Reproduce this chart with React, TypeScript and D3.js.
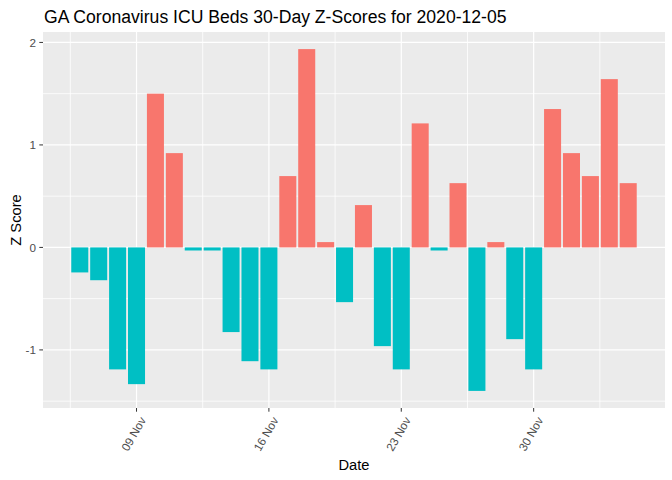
import React from "react";
import * as d3 from "d3";

const dates: string[] = [
  "2020-11-06","2020-11-07","2020-11-08","2020-11-09","2020-11-10","2020-11-11","2020-11-12","2020-11-13","2020-11-14","2020-11-15",
  "2020-11-16","2020-11-17","2020-11-18","2020-11-19","2020-11-20","2020-11-21","2020-11-22","2020-11-23","2020-11-24","2020-11-25",
  "2020-11-26","2020-11-27","2020-11-28","2020-11-29","2020-11-30","2020-12-01","2020-12-02","2020-12-03","2020-12-04","2020-12-05",
];
const zScores: number[] = [
  -0.244, -0.32, -1.19, -1.334, 1.5, 0.92, -0.03, -0.03, -0.826, -1.11,
  -1.19, 0.696, 1.935, 0.052, -0.534, 0.413, -0.963, -1.19, 1.21, -0.03,
  0.627, -1.40, 0.052, -0.895, -1.19, 1.35, 0.92, 0.696, 1.642, 0.627,
];
const xTickDates: string[] = ["2020-11-09", "2020-11-16", "2020-11-23", "2020-11-30"];
const xMinorDates: string[] = ["2020-11-05T12:00", "2020-11-12T12:00", "2020-11-19T12:00", "2020-11-26T12:00", "2020-12-03T12:00"];
const yTicks: number[] = [-1, 0, 1, 2];
const yMinor: number[] = [-1.5, -0.5, 0.5, 1.5];
const title = "GA Coronavirus ICU Beds 30-Day Z-Scores for 2020-12-05";

const DAY = 86400000;
const parse = (s: string) => new Date(s.length > 10 ? s + ":00Z" : s + "T00:00:00Z");

export default function App() {
  const W = 672, H = 480;
  const left = 43, right = 665, top = 32, bottom = 408;
  const font = "'Liberation Sans', Arial, sans-serif";

  const times = dates.map(parse);
  const t0 = +times[0] - 0.45 * DAY;
  const t1 = +times[times.length - 1] + 0.45 * DAY;
  const xpad = (t1 - t0) * 0.05;
  const x = d3.scaleUtc().domain([new Date(t0 - xpad), new Date(t1 + xpad)]).range([left, right]);

  const ymin = Math.min(0, d3.min(zScores)!);
  const ymax = Math.max(0, d3.max(zScores)!);
  const ypad = (ymax - ymin) * 0.05;
  const y = d3.scaleLinear().domain([ymin - ypad, ymax + ypad]).range([bottom, top]);

  const bw = x(new Date(t0 + 0.9 * DAY)) - x(new Date(t0));
  const fmt = d3.utcFormat("%d %b");

  return (
    <svg width={W} height={H} style={{ position: "absolute", left: 0, top: 0, background: "#fff" }}>
      <rect x={0} y={0} width={W} height={H} fill="#fff" />
      <rect x={left} y={top} width={right - left} height={bottom - top} fill="#EBEBEB" />
      {yMinor.map((v) => (
        <line key={"ym" + v} x1={left} x2={right} y1={y(v)} y2={y(v)} stroke="#fff" strokeWidth={0.8} />
      ))}
      {xMinorDates.map((d) => (
        <line key={"xm" + d} x1={x(parse(d))} x2={x(parse(d))} y1={top} y2={bottom} stroke="#fff" strokeWidth={0.8} />
      ))}
      {yTicks.map((v) => (
        <line key={"yg" + v} x1={left} x2={right} y1={y(v)} y2={y(v)} stroke="#fff" strokeWidth={1.2} />
      ))}
      {xTickDates.map((d) => (
        <line key={"xg" + d} x1={x(parse(d))} x2={x(parse(d))} y1={top} y2={bottom} stroke="#fff" strokeWidth={1.2} />
      ))}
      {times.map((t, i) => {
        const v = zScores[i];
        const cx = x(t);
        return (
          <rect
            key={"b" + i}
            x={cx - bw / 2}
            width={bw}
            y={Math.min(y(v), y(0))}
            height={Math.abs(y(v) - y(0))}
            fill={v > 0 ? "#F8766D" : "#00BFC4"}
          />
        );
      })}
      {yTicks.map((v) => (
        <g key={"yt" + v}>
          <line x1={left - 3.7} x2={left} y1={y(v)} y2={y(v)} stroke="#333333" strokeWidth={1} />
          <text x={left - 7} y={y(v)} dy="0.35em" textAnchor="end" fontFamily={font} fontSize={11.7} fill="#4D4D4D">
            {v}
          </text>
        </g>
      ))}
      {xTickDates.map((d) => {
        const px = x(parse(d));
        return (
          <g key={"xt" + d}>
            <line x1={px} x2={px} y1={bottom} y2={bottom + 3.7} stroke="#333333" strokeWidth={1} />
            <text
              transform={`translate(${px + 10},${420}) rotate(-60)`}
              textAnchor="end"
              fontFamily={font}
              fontSize={11.7}
              fill="#4D4D4D"
            >
              {fmt(parse(d))}
            </text>
          </g>
        );
      })}
      <text x={(left + right) / 2} y={470} textAnchor="middle" fontFamily={font} fontSize={14.7} fill="#000">
        Date
      </text>
      <text transform={`translate(20.5,${(top + bottom) / 2}) rotate(-90)`} textAnchor="middle" fontFamily={font} fontSize={14.7} fill="#000">
        Z Score
      </text>
      <text x={44} y={22.7} fontFamily={font} fontSize={17.6} fill="#000">
        {title}
      </text>
    </svg>
  );
}
